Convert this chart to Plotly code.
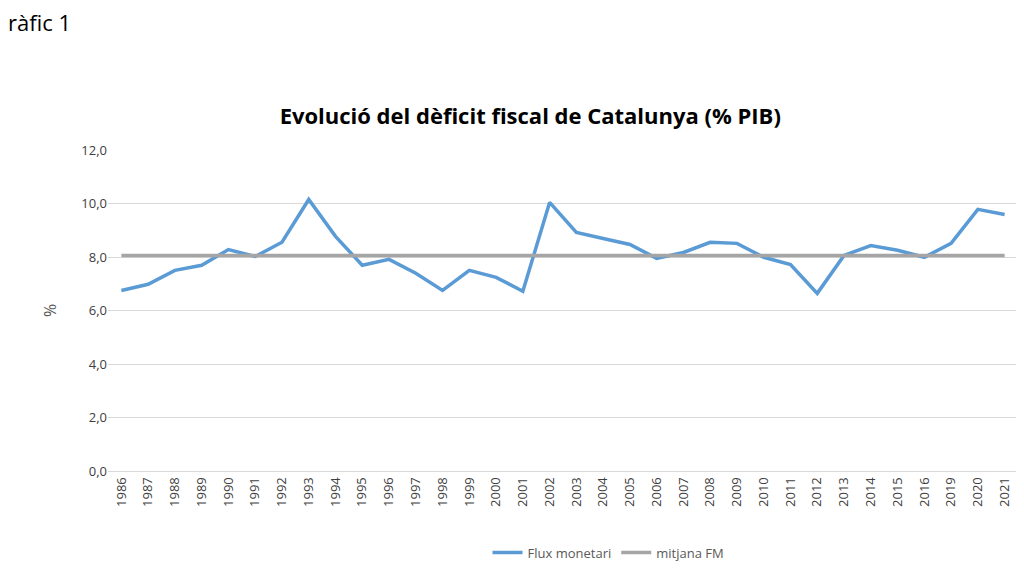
import plotly.graph_objects as go

years = [str(y) for y in range(1986, 2017)] + ["2019", "2020", "2021"]
flux = [6.75, 6.98, 7.5, 7.69, 8.28, 8.02, 8.55, 10.15, 8.77, 7.69,
        7.91, 7.39, 6.75, 7.5, 7.24, 6.72, 10.04, 8.92, 8.69, 8.47,
        7.95, 8.17, 8.55, 8.51, 7.99, 7.72, 6.64, 8.06, 8.43, 8.25,
        7.99, 8.51, 9.78, 9.59]
mitjana = [8.06] * len(years)

fig = go.Figure()
fig.add_trace(go.Scatter(x=years, y=flux, mode="lines", name="Flux monetari",
                         line=dict(color="#5B9BD5", width=3.5)))
fig.add_trace(go.Scatter(x=years, y=mitjana, mode="lines", name="mitjana FM",
                         line=dict(color="#A5A5A5", width=3.5)))

fig.update_layout(
    width=1024, height=570,
    paper_bgcolor="white", plot_bgcolor="white",
    font=dict(family="Open Sans, Liberation Sans, sans-serif", color="#595959", size=13),
    margin=dict(l=100, r=14, t=142, b=106),
    title=dict(text="<b>Evolució del dèficit fiscal de Catalunya (% PIB)</b>",
               x=0.51, xanchor="center", y=0.81, yanchor="middle",
               font=dict(size=22, color="black")),
    legend=dict(orientation="h", x=0.55, xanchor="center", y=-0.25, yanchor="middle",
                font=dict(size=13, color="#595959")),
    annotations=[dict(text="Gràfic 1", xref="paper", yref="paper", x=-0.13, y=1.4,
                      xanchor="left", yanchor="middle", showarrow=False,
                      font=dict(size=22, color="black"))],
    separators=",.",
)
fig.update_xaxes(type="category", range=[-0.5, len(years) - 0.5], tickangle=-90,
                 showline=True, linecolor="#D9D9D9",
                 tickfont=dict(size=13, color="#404040"), ticks="")
fig.update_yaxes(range=[0, 12], dtick=2, tickformat=".1f",
                 gridcolor="#D9D9D9", zeroline=False, title=dict(text="%", standoff=20),
                 tickfont=dict(size=13, color="#404040"))

fig.write_html("out.html")
